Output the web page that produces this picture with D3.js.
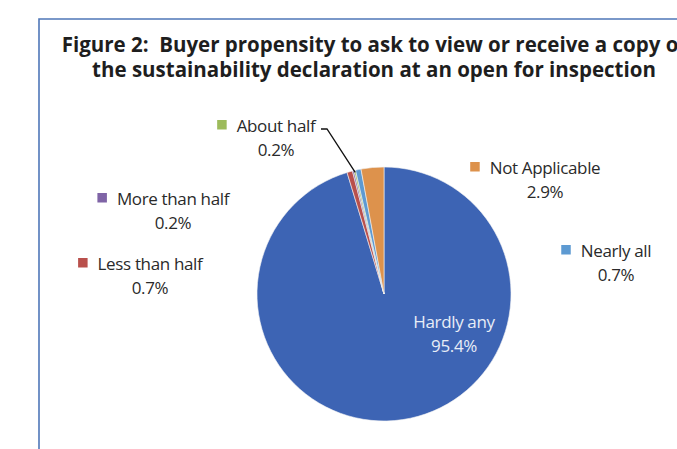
<!DOCTYPE html>
<html><head><meta charset="utf-8">
<script src="https://cdn.jsdelivr.net/npm/d3@7"></script>
<style>html,body{margin:0;padding:0;background:#fff;}svg{display:block;}text{white-space:pre;}</style>
</head><body>
<svg id="c" width="677" height="449"></svg>
<script>
// ---- data ----
const categories = ["Hardly any", "Less than half", "More than half", "About half", "Nearly all", "Not Applicable"];
const values = [95.4, 0.7, 0.2, 0.2, 0.7, 2.9];
const valueLabels = ["95.4%", "0.7%", "0.2%", "0.2%", "0.7%", "2.9%"];
const colors = ["#3d64b4", "#b9504c", "#7f64a6", "#9dbb5b", "#5d9ad2", "#dd924c"];
const titleLines = ["Figure 2:  Buyer propensity to ask to view or receive a copy of",
                    "the sustainability declaration at an open for inspection"];

// ---- layout ----
const W = 677, H = 449;
const cx = 384, cy = 294, R = 127;
// label anchors: center x of the name text, baseline of first line
const labelLayout = [
  {x: 454, y: 328, inside: true},
  {x: 150, y: 270},
  {x: 173, y: 205},
  {x: 276, y: 132},
  {x: 616, y: 257},
  {x: 545, y: 174}
];
const font = "'Open Sans', 'Noto Sans', sans-serif";

const svg = d3.select("#c");

// frame
svg.append("path")
  .attr("d", `M39,${H + 5} L39,19 L${W + 5},19`)
  .attr("fill", "none").attr("stroke", "#4f77b8").attr("stroke-width", 1.6);

// title
titleLines.forEach((t, i) => svg.append("text")
  .attr("text-anchor", "middle")
  .attr("font-family", font).attr("font-weight", "bold")
  .attr("font-size", 20.5).attr("fill", "#1e1e1e")
  .attr("x", 374).attr("y", 52 + i * 25).text(t));

// pie
const pie = d3.pie().sort(null).value(d => d)(values);
const arc = d3.arc().innerRadius(0).outerRadius(R);
const g = svg.append("g").attr("transform", `translate(${cx},${cy})`);
g.selectAll("path").data(pie).join("path")
  .attr("d", arc)
  .attr("fill", (d, i) => colors[i])
  .attr("stroke", "#f4f4f4").attr("stroke-width", 0.6);

// leader line for "About half"
const ah = pie[3];
const ahMid = (ah.startAngle + ah.endAngle) / 2;
const ahPt = [cx + Math.sin(ahMid) * (R - 2), cy - Math.cos(ahMid) * (R - 2)];
svg.append("path")
  .attr("d", `M321,129 L327,129 L${ahPt[0]},${ahPt[1]}`)
  .attr("fill", "none").attr("stroke", "#111").attr("stroke-width", 1.3);

// labels
const sq = 9.5, fs = 17;
categories.forEach((c, i) => {
  const L = labelLayout[i];
  const col = L.inside ? "#e8edf7" : "#2a2a2a";
  const t1 = svg.append("text")
    .attr("font-family", font).attr("font-size", fs).attr("letter-spacing", -0.35)
    .attr("fill", col).attr("text-anchor", "middle")
    .attr("x", L.x).attr("y", L.y).text(c);
  svg.append("text")
    .attr("font-family", font).attr("font-size", fs).attr("letter-spacing", -0.35)
    .attr("fill", col).attr("text-anchor", "middle")
    .attr("x", L.x).attr("y", L.y + 23.5).text(valueLabels[i]);
  if (!L.inside) {
    const bb = t1.node().getBBox();
    svg.append("rect")
      .attr("x", bb.x - 10 - sq)
      .attr("y", L.y - 12)
      .attr("width", sq).attr("height", sq)
      .attr("fill", colors[i]);
  }
});
</script>
</body></html>
